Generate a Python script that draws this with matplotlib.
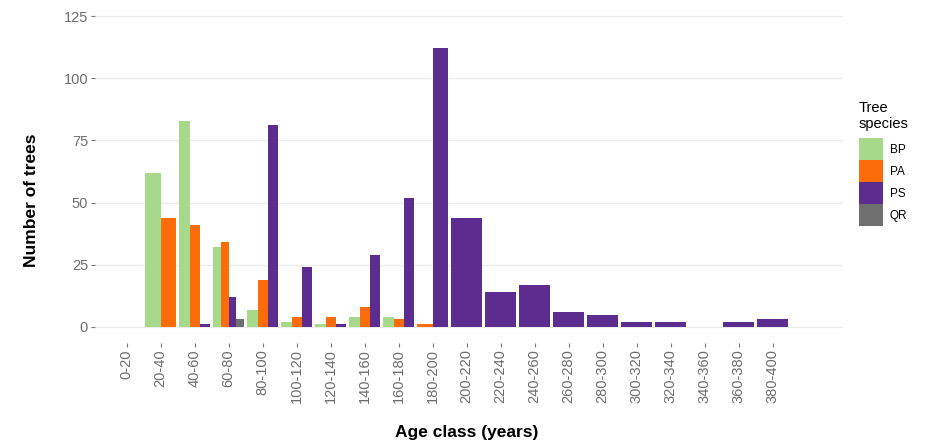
import numpy as np
import matplotlib
matplotlib.use('Agg')
import matplotlib.pyplot as plt
from matplotlib.patches import Patch

plt.rcParams['font.family'] = ['Liberation Sans', 'DejaVu Sans']

# Data (counts)
age_classes = ['0-20', '20-40', '40-60', '60-80', '80-100', '100-120', '120-140',
               '140-160', '160-180', '180-200', '200-220', '220-240', '240-260',
               '260-280', '280-300', '300-320', '320-340', '340-360', '360-380',
               '380-400']
species = ['BP', 'PA', 'PS', 'QR']
bp = [0, 62, 83, 32, 7, 2, 1, 4, 4, 0, 0, 0, 0, 0, 0, 0, 0, 0, 0, 0]
pa = [0, 44, 41, 34, 19, 4, 4, 8, 3, 1, 0, 0, 0, 0, 0, 0, 0, 0, 0, 0]
ps = [0, 0, 1, 12, 81, 24, 1, 29, 52, 112, 44, 14, 17, 6, 5, 2, 2, 0, 2, 3]
qr = [0, 0, 0, 3, 0, 0, 0, 0, 0, 0, 0, 0, 0, 0, 0, 0, 0, 0, 0, 0]
colors = ['#a7d98b', '#fc6c0a', '#5c2d8f', '#6f6f6f']

counts = np.array([bp, pa, ps, qr])

fig = plt.figure(figsize=(9.27, 4.46), dpi=100)
ax = fig.add_axes([95 / 927, 1 - 342.5 / 446, (843 - 95) / 927, 342 / 446])

# dodge like ggplot: bars share the 0.9 width among the species present
width = 0.9
for i in range(len(age_classes)):
    present = [k for k in range(len(species)) if counts[k, i] > 0]
    n = len(present)
    for j, k in enumerate(present):
        w = width / n
        x = i - width / 2 + w * (j + 0.5)
        ax.bar(x, counts[k, i], width=w, color=colors[k], linewidth=0)

ax.set_xlim(-0.93, 21.07)
ax.set_ylim(-6.25, 131.25)
ax.set_yticks([0, 25, 50, 75, 100, 125])
ax.set_xticks(range(len(age_classes)))
ax.set_xticklabels(age_classes, rotation=90)
ax.grid(axis='y', color='#ececec', linewidth=1)
ax.set_axisbelow(True)
for s in ax.spines.values():
    s.set_visible(False)
ax.tick_params(axis='both', colors='#7a7a7a', labelcolor='#6e6e6e', labelsize=10.5,
               length=3, width=0.8, pad=2)

fig.text(32 / 927, 1 - 200 / 446, 'Number of trees', rotation=90, ha='center',
         va='center', fontsize=12.5, fontweight='bold')
fig.text(467 / 927, 1 - 433 / 446, 'Age class (years)', ha='center', va='center',
         fontsize=12.5, fontweight='bold')

handles = [Patch(facecolor=c, edgecolor='none') for c in colors]
leg = fig.legend(handles, species, loc='upper left',
                 bbox_to_anchor=(859 / 927, 1 - 101 / 446), frameon=False,
                 fontsize=8.5, title='Tree\nspecies', title_fontsize=10.5,
                 handlelength=2.0, handleheight=2.5, labelspacing=0,
                 handletextpad=0.6, borderpad=0, borderaxespad=0)
leg._legend_box.align = 'left'
leg._legend_box.sep = 5

fig.savefig('out.png', dpi=100, facecolor='white')
